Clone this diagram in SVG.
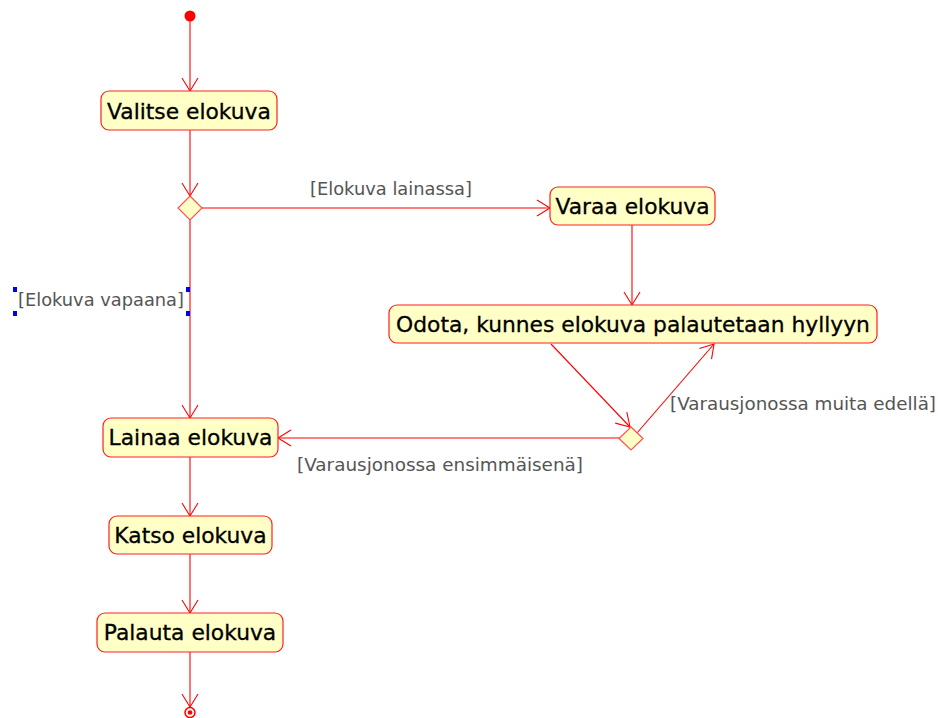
<svg xmlns="http://www.w3.org/2000/svg" width="938" height="718" viewBox="0 0 938 718">
<style>
.bg{fill:#ffffff}
.node rect{fill:#ffffc6;stroke:#ff2020;stroke-width:1.2}
.node text{font-family:"DejaVu Sans",sans-serif;font-size:21.8px;fill:#000;stroke:#000;stroke-width:0.3;text-anchor:middle}
.dia{fill:#ffffc6;stroke:#ff5050;stroke-width:1.2}
.edge{fill:none;stroke:#ff0000;stroke-width:1.1}
.lbl{font-family:"DejaVu Sans",sans-serif;font-size:18px;fill:#555555}
.h{fill:#0000ee}
</style>
<defs>
<marker id="arr" markerUnits="userSpaceOnUse" markerWidth="20" markerHeight="20" viewBox="-15 -10 20 20" refX="0" refY="0" orient="auto">
<path d="M-13,-8 L0,0 L-13,8" fill="none" stroke="#ff0000" stroke-width="1.1"/>
</marker>
</defs>
<rect class="bg" x="0" y="0" width="938" height="718"/>
<g id="connectors">
<line class="edge" x1="190" y1="21" x2="190" y2="91" marker-end="url(#arr)"/>
<line class="edge" x1="190" y1="130" x2="190" y2="196" marker-end="url(#arr)"/>
<line class="edge" x1="202" y1="208" x2="550" y2="208" marker-end="url(#arr)"/>
<line class="edge" x1="190" y1="220" x2="190" y2="418" marker-end="url(#arr)"/>
<line class="edge" x1="632" y1="225" x2="632" y2="305" marker-end="url(#arr)"/>
<line class="edge" x1="551" y1="344" x2="630" y2="427" marker-end="url(#arr)"/>
<line class="edge" x1="637" y1="433" x2="714" y2="344" marker-end="url(#arr)"/>
<line class="edge" x1="620" y1="438" x2="278" y2="438" marker-end="url(#arr)"/>
<line class="edge" x1="190" y1="457" x2="190" y2="516" marker-end="url(#arr)"/>
<line class="edge" x1="190" y1="554" x2="190" y2="613" marker-end="url(#arr)"/>
<line class="edge" x1="190" y1="652" x2="190" y2="707" marker-end="url(#arr)"/>
<text class="lbl" x="310" y="195" textLength="162" lengthAdjust="spacingAndGlyphs">[Elokuva lainassa]</text>
<text class="lbl" x="18" y="306" textLength="166" lengthAdjust="spacingAndGlyphs">[Elokuva vapaana]</text>
<text class="lbl" x="670" y="410" textLength="266" lengthAdjust="spacingAndGlyphs">[Varausjonossa muita edellä]</text>
<text class="lbl" x="297" y="471" textLength="286" lengthAdjust="spacingAndGlyphs">[Varausjonossa ensimmäisenä]</text>
<rect class="h" x="13" y="287" width="4" height="5"/>
<rect class="h" x="13" y="311" width="4" height="5"/>
<rect class="h" x="186" y="287" width="4" height="5"/>
<rect class="h" x="186" y="311" width="4" height="5"/>
</g>
<g id="start"><circle cx="190" cy="16" r="5.5" fill="#ff0000"/></g>
<g id="end"><circle cx="190" cy="712.5" r="5" fill="#ffffff" stroke="#ff0000" stroke-width="1.5"/><circle cx="190" cy="712.5" r="2.3" fill="#ff0000"/></g>
<g id="valitse" class="node"><rect x="101" y="91" width="176" height="39" rx="8"/><text x="189" y="119">Valitse elokuva</text></g>
<g id="decision1"><polygon class="dia" points="190,196 202,208 190,220 178,208"/></g>
<g id="varaa" class="node"><rect x="550" y="187" width="165" height="38" rx="8"/><text x="632.5" y="214">Varaa elokuva</text></g>
<g id="odota" class="node"><rect x="389" y="305" width="488" height="38" rx="8"/><text x="633" y="332">Odota, kunnes elokuva palautetaan hyllyyn</text></g>
<g id="decision2"><polygon class="dia" points="631,427 643,438.5 631,450 619,438.5"/></g>
<g id="lainaa" class="node"><rect x="103" y="418" width="175" height="39" rx="8"/><text x="190.5" y="445">Lainaa elokuva</text></g>
<g id="katso" class="node"><rect x="109" y="516" width="163" height="38" rx="8"/><text x="190.5" y="543">Katso elokuva</text></g>
<g id="palauta" class="node"><rect x="97" y="613" width="186" height="39" rx="8"/><text x="190" y="640">Palauta elokuva</text></g>
</svg>
